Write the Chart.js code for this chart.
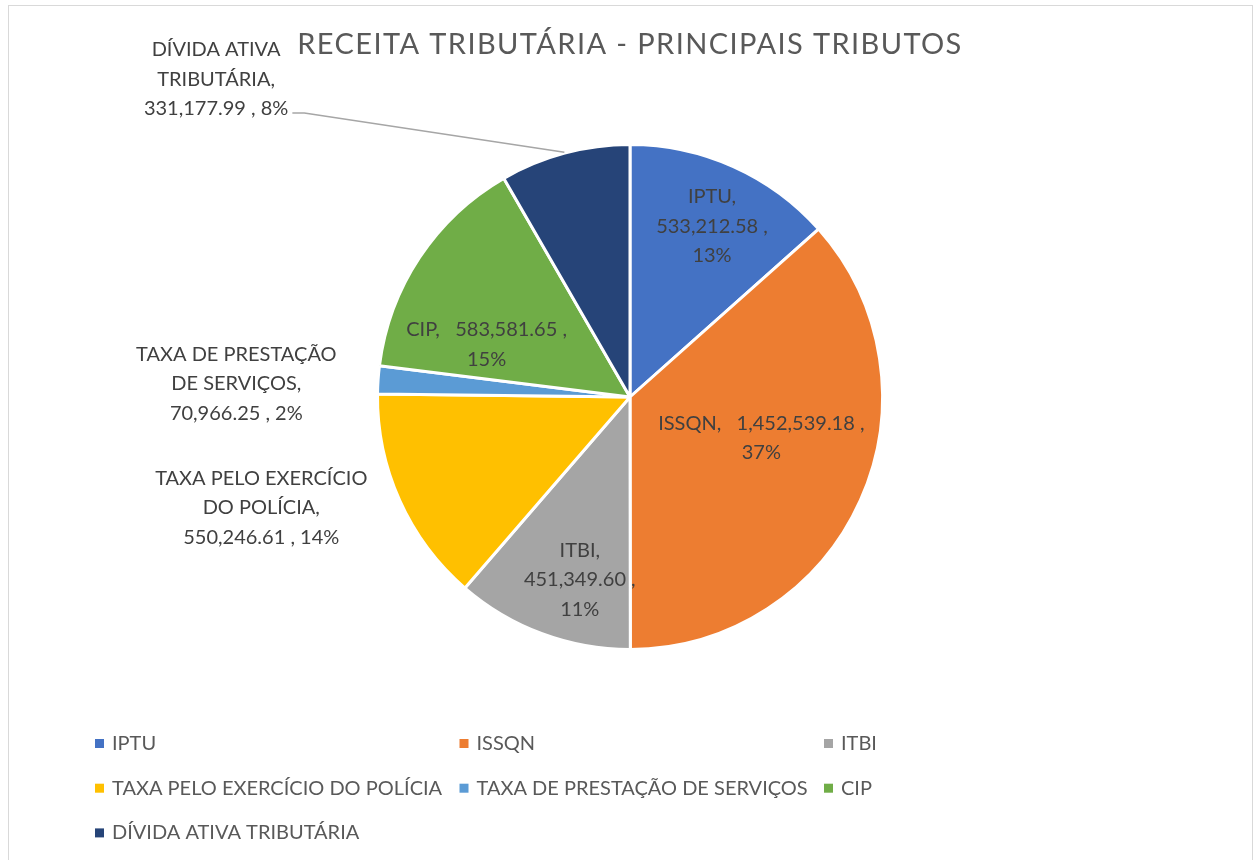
<!DOCTYPE html>
<html>
<head>
<meta charset="utf-8">
<script src="https://cdn.jsdelivr.net/npm/chart.js@4.4.1/dist/chart.umd.min.js"></script>
<style>
  html, body { margin: 0; padding: 0; background: #fff; }
  #wrap { position: relative; width: 1256px; height: 860px; }
</style>
</head>
<body>
<div id="wrap"><canvas id="pieChart"></canvas></div>
<script>
// data
const categories = [
  "IPTU",
  "ISSQN",
  "ITBI",
  "TAXA PELO EXERCÍCIO DO POLÍCIA",
  "TAXA DE PRESTAÇÃO DE SERVIÇOS",
  "CIP",
  "DÍVIDA ATIVA TRIBUTÁRIA"
];
const receita = [533212.58, 1452539.18, 451349.60, 550246.61, 70966.25, 583581.65, 331177.99];
const chartTitle = "RECEITA TRIBUTÁRIA - PRINCIPAIS TRIBUTOS";

const sliceColors = ["#4472C4", "#ED7D31", "#A5A5A5", "#FFC000", "#5B9BD5", "#70AD47", "#264478"];

// where each data label sits: fraction of radius, angle shift from slice middle (deg), wrap width
const labelPlace = [
  { k: 0.75, shift: 1.5, wrap: 135 },
  { k: 0.545, shift: -6.7, wrap: 235 },
  { k: 0.75, shift: -5, wrap: 135 },
  { k: 1.525, shift: 7.5, wrap: 218 },
  { k: 1.56, shift: -2, wrap: 210 },
  { k: 0.605, shift: -13.4, wrap: 185 },
  { k: 2.066, shift: -37.5, wrap: 160, leader: true }
];

const FONT = "Lato, 'Open Sans', sans-serif";

function fmt(v) {
  return v.toLocaleString("en-US", { minimumFractionDigits: 2, maximumFractionDigits: 2 });
}

function wrapText(ctx, text, maxW) {
  const words = text.split(" ");
  const lines = [];
  let cur = "";
  for (const w of words) {
    const test = cur === "" ? w : cur + " " + w;
    if (cur.trim() !== "" && w !== "" && ctx.measureText(test.trim()).width > maxW) {
      lines.push(cur.trim());
      cur = w;
    } else {
      cur = test;
    }
  }
  lines.push(cur.trim());
  return lines;
}

const excelLook = {
  id: "excelLook",
  beforeDraw(chart) {
    const ctx = chart.ctx;
    ctx.save();
    ctx.strokeStyle = "#d9d9d9";
    ctx.lineWidth = 1;
    ctx.strokeRect(8.5, 5.5, 1244, 900);
    ctx.restore();
  },
  afterDraw(chart) {
    const ctx = chart.ctx;
    const meta = chart.getDatasetMeta(0);
    const vals = chart.data.datasets[0].data;
    const total = vals.reduce((a, b) => a + b, 0);

    ctx.save();
    // title
    ctx.fillStyle = "#595959";
    ctx.font = "29px " + FONT;
    ctx.textAlign = "center";
    ctx.textBaseline = "alphabetic";
    if ("letterSpacing" in ctx) ctx.letterSpacing = "1.4px";
    ctx.fillText(chartTitle, 630, 53.5);
    if ("letterSpacing" in ctx) ctx.letterSpacing = "0px";

    // data labels
    ctx.font = "20px " + FONT;
    ctx.textBaseline = "middle";
    const lh = 29.5;
    meta.data.forEach((arc, i) => {
      const p = arc.getProps(["x", "y", "startAngle", "endAngle", "outerRadius"], true);
      const mid = (p.startAngle + p.endAngle) / 2;
      const a = mid + labelPlace[i].shift * Math.PI / 180;
      const r = p.outerRadius * labelPlace[i].k;
      const cx = p.x + Math.cos(a) * r;
      const cy = p.y + Math.sin(a) * r;
      const pct = Math.round(vals[i] / total * 100);
      const text = chart.data.labels[i] + ",   " + fmt(vals[i]) + " , " + pct + "%";
      const lines = wrapText(ctx, text, labelPlace[i].wrap);
      const y0 = cy - (lines.length - 1) * lh / 2;
      ctx.fillStyle = "#404040";
      lines.forEach((ln, j) => ctx.fillText(ln, cx, y0 + j * lh));

      if (labelPlace[i].leader) {
        const last = lines[lines.length - 1];
        const xs = cx + ctx.measureText(last).width / 2 + 4;
        const ys = y0 + (lines.length - 1) * lh + 4;
        const ex = p.x + Math.cos(mid) * (p.outerRadius + 1);
        const ey = p.y + Math.sin(mid) * (p.outerRadius + 1);
        ctx.strokeStyle = "#a6a6a6";
        ctx.lineWidth = 1.5;
        ctx.beginPath();
        ctx.moveTo(xs, ys);
        ctx.lineTo(xs + 12, ys);
        ctx.lineTo(ex, ey);
        ctx.stroke();
      }
    });

    // legend, three columns
    ctx.font = "20px " + FONT;
    ctx.textAlign = "left";
    const colors = chart.data.datasets[0].backgroundColor;
    chart.data.labels.forEach((lab, i) => {
      const col = i % 3, row = Math.floor(i / 3);
      const bx = 95 + col * 364.5;
      const by = 743.5 + row * 44.7;
      ctx.fillStyle = colors[i];
      ctx.fillRect(bx, by - 4.5, 9, 9);
      ctx.fillStyle = "#595959";
      ctx.fillText(lab, bx + 17, by);
    });
    ctx.restore();
  }
};

new Chart(document.getElementById("pieChart"), {
  type: "pie",
  data: {
    labels: categories,
    datasets: [{
      data: receita,
      backgroundColor: sliceColors,
      borderColor: "#ffffff",
      borderWidth: 3,
      hoverBorderWidth: 3,
      hoverOffset: 0
    }]
  },
  options: {
    responsive: true,
    maintainAspectRatio: false,
    animation: false,
    events: [],
    layout: { padding: { top: 143, bottom: 209, left: 4, right: 0 } },
    plugins: {
      legend: { display: false },
      title: { display: false },
      tooltip: { enabled: false }
    }
  },
  plugins: [excelLook]
});
</script>
</body>
</html>
